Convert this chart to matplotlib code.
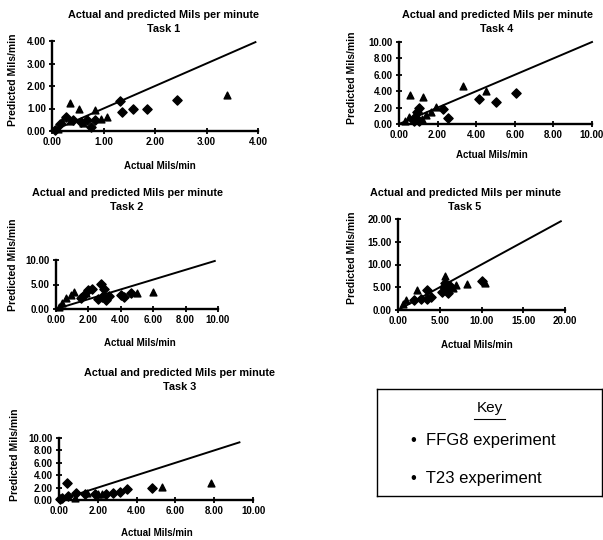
import matplotlib
matplotlib.use("Agg")
import matplotlib.pyplot as plt
from matplotlib.ticker import FormatStrFormatter

plt.rcParams['font.family'] = ['Liberation Sans', 'DejaVu Sans']

W, H = 603, 540

# data (actual, predicted Mils/min)
t1_ffg8_x = [0.05, 0.15, 0.27, 0.40, 0.56, 0.68, 0.75, 0.84, 1.33, 1.35, 1.57, 1.84, 2.42]
t1_ffg8_y = [0.03, 0.30, 0.63, 0.49, 0.41, 0.49, 0.19, 0.49, 1.32, 0.85, 0.96, 1.00, 1.37]
t1_t23_x = [0.12, 0.20, 0.34, 0.35, 0.52, 0.60, 0.84, 0.95, 1.06, 3.40]
t1_t23_y = [0.10, 0.45, 1.25, 0.45, 1.00, 0.35, 0.95, 0.55, 0.63, 1.60]

t4_ffg8_x = [4.14, 5.00, 6.04, 2.54, 1.03, 0.94, 2.27, 0.85, 1.03, 0.76]
t4_ffg8_y = [3.00, 2.63, 3.75, 0.71, 2.00, 1.46, 1.88, 0.83, 0.42, 0.33]
t4_t23_x = [0.59, 1.24, 3.34, 4.50, 1.92, 1.65, 0.50, 0.32, 1.20, 1.38]
t4_t23_y = [3.54, 3.33, 4.58, 4.08, 2.08, 1.46, 0.83, 0.42, 0.63, 1.04]

t2_ffg8_x = [2.76, 2.96, 4.60, 4.00, 2.86, 3.27, 2.24, 2.00, 1.53, 1.73, 2.60, 3.10, 4.20]
t2_ffg8_y = [5.10, 4.10, 3.20, 2.80, 2.50, 2.60, 4.10, 3.80, 2.20, 2.80, 2.00, 1.80, 2.50]
t2_t23_x = [6.00, 5.00, 1.84, 1.12, 0.92, 0.60, 0.40, 0.20]
t2_t23_y = [3.50, 3.20, 3.20, 3.50, 2.80, 2.20, 1.20, 0.50]

t5_ffg8_x = [5.6, 5.5, 5.8, 6.0, 5.3, 6.2, 10.0, 3.5, 4.0, 3.5, 1.9, 2.7]
t5_ffg8_y = [6.0, 5.0, 4.5, 3.8, 3.9, 5.2, 6.4, 4.3, 2.9, 2.5, 2.2, 2.4]
t5_t23_x = [5.6, 6.6, 7.0, 8.3, 10.4, 2.3, 1.0, 0.6]
t5_t23_y = [7.5, 4.8, 5.5, 5.8, 6.0, 4.5, 2.2, 1.4]

t3_ffg8_x = [0.40, 4.80, 0.90, 1.34, 1.86, 2.40, 2.80, 3.15, 3.50, 0.14, 0.48, 0.05]
t3_ffg8_y = [2.70, 2.00, 1.20, 0.93, 0.93, 1.00, 1.20, 1.37, 1.75, 0.38, 0.66, 0.10]
t3_t23_x = [5.30, 7.86, 1.43, 2.00, 2.20, 0.83]
t3_t23_y = [2.10, 2.70, 1.20, 1.00, 0.93, 0.27]

line_ends = {1: 3.95, 4: 10.0, 2: 9.8, 5: 19.5, 3: 9.3}


def box(l, t, r, b):
    return [l / W, 1 - b / H, (r - l) / W, (b - t) / H]


def ftext(x, y, s, **kw):
    fig.text(x / W, 1 - y / H, s, **kw)


fig = plt.figure(figsize=(W / 100, H / 100), dpi=100)


def task_plot(rect, fx, fy, tx, ty, xmax, ymax, xstep, ystep, lend):
    ax = fig.add_axes(rect)
    ax.plot([0, lend], [0, lend], color='black', lw=1.4, clip_on=False)
    ax.scatter(fx, fy, marker='D', s=22, color='black', clip_on=False, zorder=3)
    ax.scatter(tx, ty, marker='^', s=24, color='black', clip_on=False, zorder=3)
    ax.set_xlim(0, xmax)
    ax.set_ylim(0, ymax)
    ax.set_xticks([i * xstep for i in range(int(round(xmax / xstep)) + 1)])
    ax.set_yticks([i * ystep for i in range(int(round(ymax / ystep)) + 1)])
    ax.xaxis.set_major_formatter(FormatStrFormatter('%.2f'))
    ax.yaxis.set_major_formatter(FormatStrFormatter('%.2f'))
    for sp in ['top', 'right']:
        ax.spines[sp].set_visible(False)
    for sp in ['left', 'bottom']:
        ax.spines[sp].set_linewidth(1.7)
    ax.tick_params(direction='inout', length=5, width=1.3, labelsize=7, pad=2)
    for lab in ax.get_xticklabels() + ax.get_yticklabels():
        lab.set_fontweight('bold')
    return ax


task_plot(box(52, 41, 258, 131), t1_ffg8_x, t1_ffg8_y, t1_t23_x, t1_t23_y, 4, 4, 1, 1, line_ends[1])
task_plot(box(399, 42, 592, 124), t4_ffg8_x, t4_ffg8_y, t4_t23_x, t4_t23_y, 10, 10, 2, 2, line_ends[4])
task_plot(box(56, 260, 218, 309), t2_ffg8_x, t2_ffg8_y, t2_t23_x, t2_t23_y, 10, 10, 2, 5, line_ends[2])
task_plot(box(398, 219, 565, 310), t5_ffg8_x, t5_ffg8_y, t5_t23_x, t5_t23_y, 20, 20, 5, 5, line_ends[5])
task_plot(box(59, 438, 253, 500), t3_ffg8_x, t3_ffg8_y, t3_t23_x, t3_t23_y, 10, 10, 2, 2, line_ends[3])

title_kw = dict(ha='center', va='center', fontsize=7.8, fontweight='bold', linespacing=1.4)
ftext(164, 22, "Actual and predicted Mils per minute\nTask 1", **title_kw)
ftext(497, 22, "Actual and predicted Mils per minute\nTask 4", **title_kw)
ftext(127, 200, "Actual and predicted Mils per minute\nTask 2", **title_kw)
ftext(465, 200, "Actual and predicted Mils per minute\nTask 5", **title_kw)
ftext(180, 380, "Actual and predicted Mils per minute\nTask 3", **title_kw)

lab_kw = dict(ha='center', va='center', fontsize=7, fontweight='bold')
ftext(160, 166, "Actual Mils/min", **lab_kw)
ftext(492, 155, "Actual Mils/min", **lab_kw)
ftext(140, 343, "Actual Mils/min", **lab_kw)
ftext(477, 345, "Actual Mils/min", **lab_kw)
ftext(157, 533, "Actual Mils/min", **lab_kw)

ylab_kw = dict(ha='center', va='center', fontsize=7.5, fontweight='bold', rotation=90)
ftext(13, 80, "Predicted Mils/min", **ylab_kw)
ftext(352, 78, "Predicted Mils/min", **ylab_kw)
ftext(13, 265, "Predicted Mils/min", **ylab_kw)
ftext(352, 258, "Predicted Mils/min", **ylab_kw)
ftext(15, 455, "Predicted Mils/min", **ylab_kw)

# key box
kax = fig.add_axes(box(377, 389, 602, 496))
kax.set_xticks([])
kax.set_yticks([])
kax.set_xlim(0, 1)
kax.set_ylim(0, 1)
for sp in kax.spines.values():
    sp.set_linewidth(1.0)
kax.text(0.5, 0.82, "Key", ha='center', va='center', fontsize=11)
kax.plot([0.43, 0.57], [0.72, 0.72], color='black', lw=0.8)
kax.text(0.15, 0.52, "\u2022  FFG8 experiment", ha='left', va='center', fontsize=12)
kax.text(0.15, 0.16, "\u2022  T23 experiment", ha='left', va='center', fontsize=12)

fig.savefig("out.png", dpi=100)
